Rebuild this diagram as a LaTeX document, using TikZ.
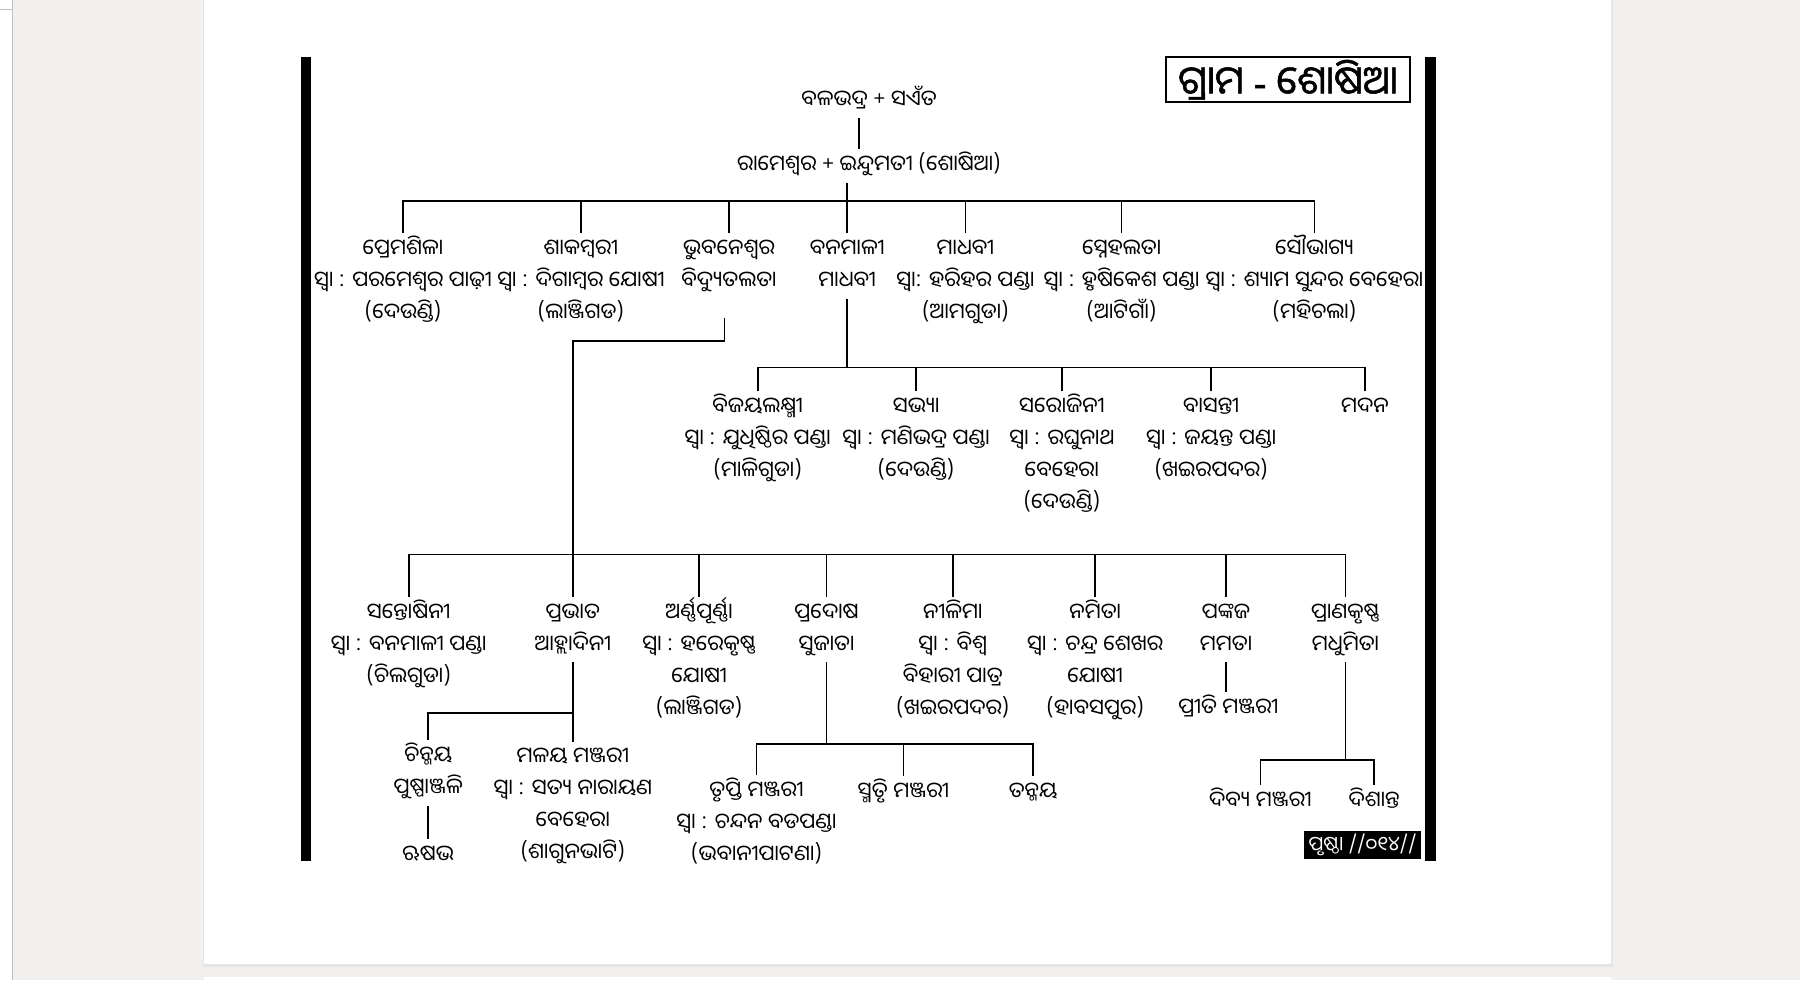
\documentclass[tikz,border=0pt]{standalone}
\usepackage{fontspec}
\newfontfamily\odia[Script=Oriya]{Noto Sans Oriya UI}
\newfontfamily\odiatitle[Script=Oriya,FakeBold=1.4]{Noto Sans Oriya UI}
\newfontfamily\latintitle[FakeBold=1.4]{Noto Sans}
\definecolor{bgc}{HTML}{F1F0EE}
\newcommand\NL{\strut\\}
\begin{document}
\begin{tikzpicture}[x=0.574pt,y=-0.574pt,line width=0.85pt,
  pers/.style={font=\odia\fontsize{10.8}{16}\selectfont, align=center, inner sep=0pt, yshift=-2pt,
    execute at begin node=\strut, execute at end node=\strut}]
\useasboundingbox (0,0) rectangle (1568,854);
% viewer background
\fill[bgc] (0,0) rectangle (1568,854);
\fill[white] (0,0) rectangle (11,854);
\draw[line width=0.6pt,black!25] (11,0) -- (11,854);
\draw[line width=0.5pt,black!25] (0,8) -- (11,8);
\fill[black!10] (177,0) rectangle (1405,842);
\fill[white] (178,0) rectangle (1403,840);
\fill[white] (178,851) rectangle (1403,854);
% frame bars
\fill[black] (262,50) rectangle (271,750);
\fill[black] (1241,50) rectangle (1251,750);
% title
\node[draw, line width=0.9pt, minimum width=121.7pt, minimum height=22.4pt, inner sep=0pt,
  font=\odiatitle\fontsize{19.5}{21}\selectfont] (title) at (1122,69.5) {ଗ୍ରାମ {\latintitle -} ଶୋଷିଆ};
% root
\node[pers] (r0) at (757,85) {ବଳଭଦ୍ର + ସଏଁତ};
\node[pers] (rm) at (757,141) {ରାମେଶ୍ୱର + ଇନ୍ଦୁମତୀ (ଶୋଷିଆ)};
\coordinate (l0) at (748,0);
\draw (r0.south -| l0) -- (rm.north -| l0);
\coordinate (b1) at (738,175);
\draw (rm.south -| b1) -- (b1);
% row 1
\node[pers] (r1a) at (351,242) {ପ୍ରେମଶିଳା\NL ସ୍ୱା : ପରମେଶ୍ୱର ପାଢ଼ୀ\NL (ଦେଉଣ୍ଡି)};
\node[pers] (r1b) at (506,242) {ଶାକମ୍ବରୀ\NL ସ୍ୱା : ଦିଗାମ୍ବର ଯୋଷୀ\NL (ଲାଞ୍ଜିଗଡ)};
\node[pers] (r1c) at (635,228) {ଭୁବନେଶ୍ୱର\NL ବିଦ୍ୟୁତଲତା};
\node[pers] (r1d) at (738,228) {ବନମାଳୀ\NL ମାଧବୀ};
\node[pers] (r1e) at (841,242) {ମାଧବୀ\NL ସ୍ୱା: ହରିହର ପଣ୍ଡା\NL (ଆମଗୁଡା)};
\node[pers] (r1f) at (977,242) {ସ୍ନେହଲତା\NL ସ୍ୱା : ହୃଷିକେଶ ପଣ୍ଡା\NL (ଆଟିଗାଁ)};
\node[pers] (r1g) at (1145,242) {ସୌଭାଗ୍ୟ\NL ସ୍ୱା : ଶ୍ୟାମ ସୁନ୍ଦର ବେହେରା\NL (ମହିଚଲା)};
\foreach \n in {r1a,r1b,r1c,r1d,r1e,r1f,r1g} \draw (\n.north) |- (b1);
% row 2
\coordinate (b2) at (738,320);
\draw (r1d.south) -- (b2);
\node[pers] (r2a) at (660,380) {ବିଜୟଲକ୍ଷ୍ମୀ\NL ସ୍ୱା : ଯୁଧିଷ୍ଠିର ପଣ୍ଡା\NL (ମାଳିଗୁଡା)};
\node[pers] (r2b) at (798,380) {ସଭ୍ୟା\NL ସ୍ୱା : ମଣିଭଦ୍ର ପଣ୍ଡା\NL (ଦେଉଣ୍ଡି)};
\node[pers] (r2c) at (925,394) {ସରୋଜିନୀ\NL ସ୍ୱା : ରଘୁନାଥ\NL ବେହେରା\NL (ଦେଉଣ୍ଡି)};
\node[pers] (r2d) at (1055,380) {ବାସନ୍ତୀ\NL ସ୍ୱା : ଜୟନ୍ତ ପଣ୍ଡା\NL (ଖଇରପଦର)};
\node[pers] (r2e) at (1189,352) {ମଦନ};
\foreach \n in {r2a,r2b,r2c,r2d,r2e} \draw (\n.north) |- (b2);
% row 3
\coordinate (b3) at (499,483);
\coordinate (k0) at (631,277);
\coordinate (k1) at (631,297);
\node[pers] (r3a) at (356,559) {ସନ୍ତୋଷିନୀ\NL ସ୍ୱା : ବନମାଳୀ ପଣ୍ଡା\NL (ଚିଲଗୁଡା)};
\node[pers] (r3b) at (499,545) {ପ୍ରଭାତ\NL ଆହ୍ଲାଦିନୀ};
\node[pers] (r3c) at (609,573) {ଅର୍ଣ୍ଣପୂର୍ଣ୍ଣା\NL ସ୍ୱା : ହରେକୃଷ୍ଣ\NL ଯୋଷୀ\NL (ଲାଞ୍ଜିଗଡ)};
\node[pers] (r3d) at (720,545) {ପ୍ରଦୋଷ\NL ସୁଜାତା};
\node[pers] (r3e) at (830,573) {ନୀଳିମା\NL ସ୍ୱା : ବିଶ୍ୱ\NL ବିହାରୀ ପାତ୍ର\NL (ଖଇରପଦର)};
\node[pers] (r3f) at (954,573) {ନମିତା\NL ସ୍ୱା : ଚନ୍ଦ୍ର ଶେଖର\NL ଯୋଷୀ\NL (ହାବସପୁର)};
\node[pers] (r3g) at (1068,545) {ପଙ୍କଜ\NL ମମତା};
\node[pers] (r3i) at (1070,614) {ପ୍ରୀତି ମଞ୍ଜରୀ};
\node[pers] (r3h) at (1172,545) {ପ୍ରାଣକୃଷ୍ଣ\NL ମଧୁମିତା};
\draw (k0) -- (k1) -| (r3b.north);
\foreach \n in {r3a,r3c,r3d,r3e,r3f,r3g,r3h} \draw (\n.north) |- (b3);
\draw (r3g.south) -- (r3g.south |- r3i.north);
% row 4
\coordinate (b4) at (499,621);
\node[pers] (r4a) at (373,670) {ଚିନ୍ମୟ\NL ପୁଷ୍ପାଞ୍ଜଳି};
\node[pers] (r4b) at (499,699) {ମଳୟ ମଞ୍ଜରୀ\NL ସ୍ୱା : ସତ୍ୟ ନାରାୟଣ\NL ବେହେରା\NL (ଶାଗୁନଭାଟି)};
\node[pers] (r4c) at (373,742) {ଋଷଭ};
\draw (r3b.south) -- (r4b.north);
\draw (r4a.north) |- (b4);
\draw (r4a.south) -- (r4c.north);
\coordinate (b5) at (720,648);
\draw (r3d.south) -- (b5);
\node[pers] (r4d) at (659,714) {ତୃପ୍ତି ମଞ୍ଜରୀ\NL ସ୍ୱା : ଚନ୍ଦନ ବଡପଣ୍ଡା\NL (ଭବାନୀପାଟଣା)};
\node[pers] (r4e) at (787,687) {ସ୍ମୃତି ମଞ୍ଜରୀ};
\node[pers] (r4f) at (900,687) {ତନ୍ମୟ};
\foreach \n in {r4d,r4e,r4f} \draw (\n.north) |- (b5);
\coordinate (b6) at (1172,662);
\draw (r3h.south) -- (b6);
\node[pers] (r4g) at (1098,695) {ଦିବ୍ୟ ମଞ୍ଜରୀ};
\node[pers] (r4h) at (1197,695) {ଦିଶାନ୍ତ};
\foreach \n in {r4g,r4h} \draw (\n.north) |- (b6);
% page number
\node[fill=black, text=white, minimum width=58.5pt, minimum height=13.8pt, inner sep=0pt,
  font=\odia\fontsize{10}{12}\selectfont] (pg) at (1187,736) {ପୃଷ୍ଠା //୦୧୪//};
\end{tikzpicture}
\end{document}
